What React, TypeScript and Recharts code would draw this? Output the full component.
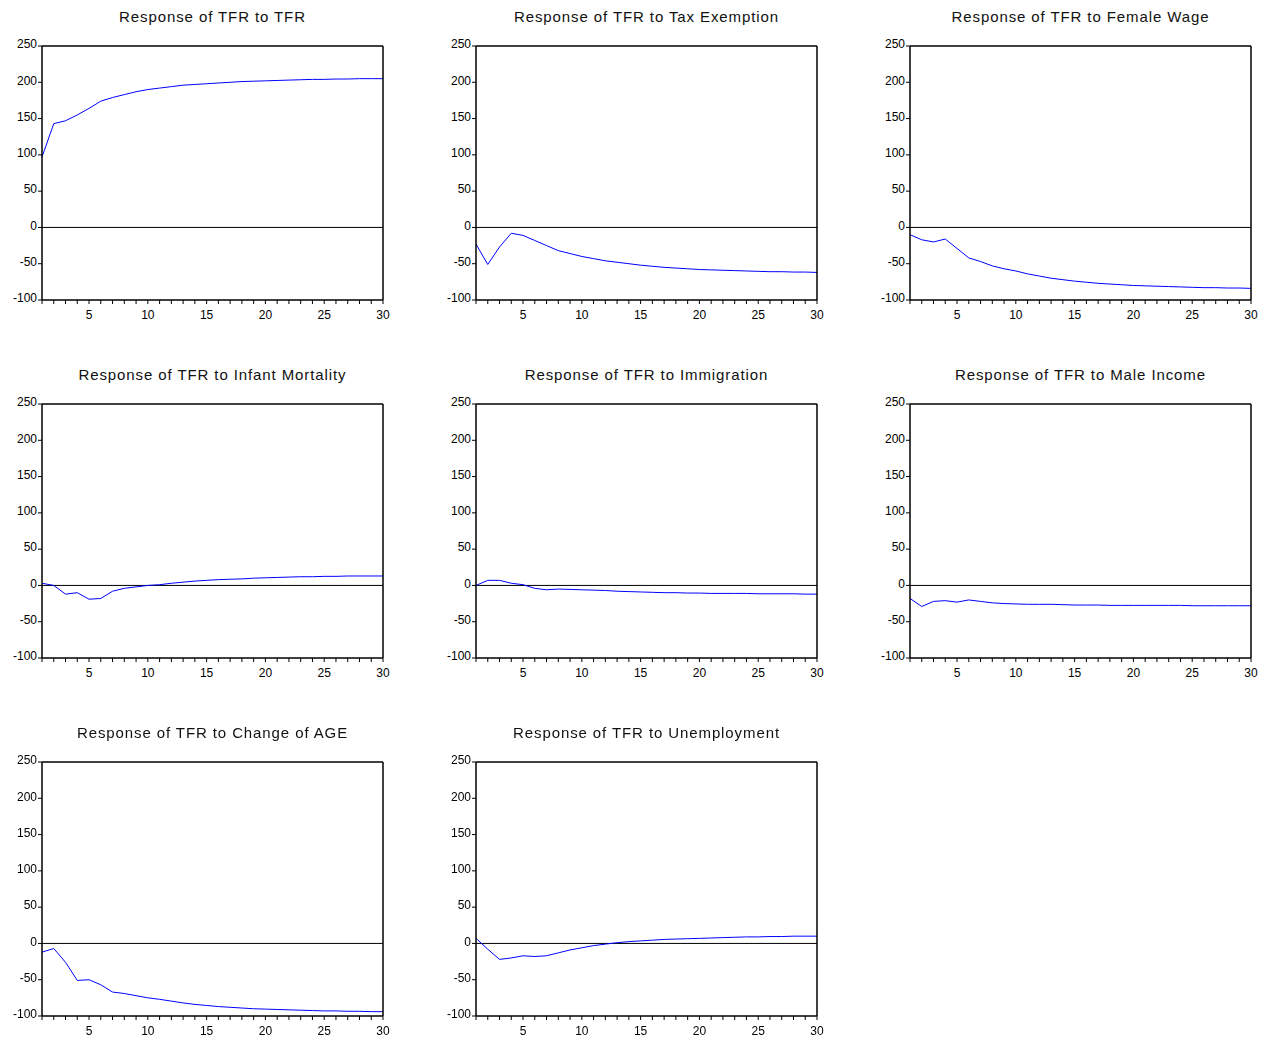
import { LineChart, Line, XAxis, YAxis, ReferenceLine } from "recharts"

const periods = Array.from({ length: 30 }, (_, i) => i + 1)
const yTicks = [-100, -50, 0, 50, 100, 150, 200, 250]

const titles = [
  "Response of TFR to TFR",
  "Response of TFR to Tax Exemption",
  "Response of TFR to Female Wage",
  "Response of TFR to Infant Mortality",
  "Response of TFR to Immigration",
  "Response of TFR to Male Income",
  "Response of TFR to Change of AGE",
  "Response of TFR to Unemployment",
]

const tfr = [97, 143, 147, 155, 164, 174, 179, 183, 187, 190, 192, 194, 196, 197, 198, 199, 200, 201, 201.5, 202, 202.5, 203, 203.5, 204, 204, 204.5, 204.5, 205, 205, 205]
const taxExemption = [-23, -51, -27, -8, -11, -18, -25, -32, -36, -40, -43, -46, -48, -50, -52, -53.5, -55, -56, -57, -58, -58.5, -59, -59.5, -60, -60.5, -61, -61, -61.5, -61.5, -62]
const femaleWage = [-10, -17, -20, -16, -29, -42, -47, -53, -57, -60, -64, -67, -70, -72, -74, -75.5, -77, -78, -79, -80, -80.5, -81, -81.5, -82, -82.5, -83, -83, -83.5, -83.5, -84]
const infantMortality = [3, 0, -12, -10, -19, -18, -8, -4, -2, 0, 1, 3, 4.5, 6, 7, 8, 8.5, 9, 10, 10.5, 11, 11.5, 12, 12, 12.5, 12.5, 13, 13, 13, 13]
const immigration = [0, 7, 7, 3, 1, -4, -6, -5, -5.5, -6, -6.5, -7, -8, -8.5, -9, -9.5, -10, -10, -10.5, -10.5, -11, -11, -11, -11, -11.5, -11.5, -11.5, -11.5, -12, -12]
const maleIncome = [-18, -29, -22, -21, -23, -20, -22, -24, -25, -25.5, -26, -26, -26, -26.5, -27, -27, -27, -27.5, -27.5, -27.5, -27.5, -27.5, -27.5, -27.5, -28, -28, -28, -28, -28, -28]
const changeOfAge = [-12, -7, -26, -51, -50, -57, -67, -69, -72, -75, -77, -79.5, -82, -84, -85.5, -87, -88, -89, -90, -90.5, -91, -91.5, -92, -92.5, -93, -93, -93.5, -93.5, -94, -94]
const unemployment = [7, -8, -22, -20, -17, -18, -17, -13, -9, -6, -3, -1, 1, 2.5, 3.5, 4.5, 5.5, 6, 6.5, 7, 7.5, 8, 8.5, 9, 9, 9.5, 9.5, 10, 10, 10]

const series = [tfr, taxExemption, femaleWage, infantMortality, immigration, maleIncome, changeOfAge, unemployment]

const font = "'Liberation Sans', Arial, sans-serif"

function Panel({ title, values, left, top }: { title: string; values: number[]; left: number; top: number }) {
  const data = periods.map((p, i) => ({ p, v: values[i] }))
  return (
    <div style={{ position: "absolute", left, top, width: 400, height: 330 }}>
      <div style={{ position: "absolute", left: 42, width: 341, top: 8, textAlign: "center", fontSize: 15, letterSpacing: 0.9, fontFamily: font, color: "#111" }}>
        {title}
      </div>
      <LineChart width={400} height={330} data={data} margin={{ top: 45, left: 0, right: 0, bottom: 0 }}>
        <XAxis
          xAxisId="b"
          dataKey="p"
          type="number"
          domain={[1, 30]}
          ticks={periods}
          interval={0}
          tickSize={4}
          tickFormatter={(v: number) => (v % 5 === 0 ? String(v) : "")}
          tick={{ fontSize: 12, fill: "#000", fontFamily: font, dy: 4 }}
          tickLine={{ stroke: "#000" }}
          axisLine={{ stroke: "#000", strokeWidth: 1.5 }}
          height={30}
        />
        <XAxis xAxisId="t" orientation="top" dataKey="p" type="number" domain={[1, 30]} tick={false} tickLine={false} axisLine={{ stroke: "#000", strokeWidth: 1.5 }} height={1} />
        <YAxis
          yAxisId="l"
          type="number"
          domain={[-100, 250]}
          allowDataOverflow
          ticks={yTicks}
          interval={0}
          width={42}
          tickSize={4}
          tick={{ fontSize: 12, fill: "#000", fontFamily: font, dx: 1, dy: -2 }}
          tickLine={{ stroke: "#000" }}
          axisLine={{ stroke: "#000", strokeWidth: 1.5 }}
        />
        <YAxis yAxisId="r" orientation="right" type="number" domain={[-100, 250]} allowDataOverflow tick={false} tickLine={false} axisLine={{ stroke: "#000", strokeWidth: 1.5 }} width={17} />
        <ReferenceLine xAxisId="b" yAxisId="l" y={0} stroke="#000" strokeWidth={1} />
        <Line xAxisId="b" yAxisId="l" dataKey="v" stroke="#0000ff" strokeWidth={1} dot={false} isAnimationActive={false} />
      </LineChart>
    </div>
  )
}

export default function App() {
  return (
    <div style={{ position: "fixed", left: 0, top: 0, width: 1268, height: 1040, background: "#fff" }}>
      {titles.map((t, i) => (
        <Panel key={t} title={t} values={series[i]} left={(i % 3) * 434} top={Math.floor(i / 3) * 358} />
      ))}
    </div>
  )
}
